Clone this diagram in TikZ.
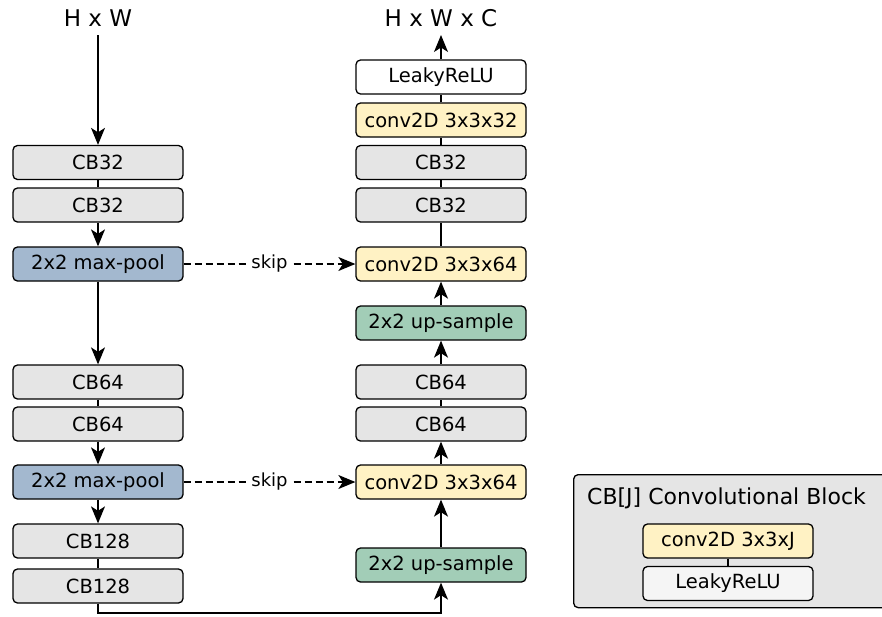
\documentclass[tikz,border=0pt]{standalone}
\usepackage{fontspec}
\setmainfont{DejaVu Sans}
\usetikzlibrary{arrows.meta}
\definecolor{cbgray}{HTML}{E5E5E5}
\definecolor{poolblue}{HTML}{A3B8CF}
\definecolor{convyel}{HTML}{FFF2C4}
\definecolor{upgreen}{HTML}{A2CDB7}
\definecolor{lightg}{HTML}{F5F5F5}
\tikzset{
  blk/.style={draw, line width=1.3pt, rounded corners=4.5pt, minimum width=170pt, minimum height=34pt, inner sep=0pt, font=\fontsize{19.5}{22}\selectfont, text=black},
  cb/.style={blk, fill=cbgray},
  pool/.style={blk, fill=poolblue},
  conv/.style={blk, fill=convyel},
  up/.style={blk, fill=upgreen},
  relu/.style={blk, fill=white},
  ttl/.style={font=\fontsize{23}{26}\selectfont, inner sep=0pt},
  legttl/.style={font=\fontsize{22}{25}\selectfont, inner sep=0pt},
  conn/.style={line width=1.3pt},
  arr/.style={conn, -{Stealth[length=17pt,width=14pt,inset=4.5pt]}},
  skipline/.style={arr, dashed, dash pattern=on 7pt off 4pt},
  skiplab/.style={fill=white, inner sep=2pt, font=\fontsize{18}{20}\selectfont},
}
\begin{document}
\begin{tikzpicture}[x=1pt,y=-1pt]
\useasboundingbox (0,0) rectangle (882,616);
% left column
\node[ttl] (in) at (98,18) {H x W};
\node[cb] (l1) at (98,162.5) {CB32};
\node[cb] (l2) at (98,205) {CB32};
\node[pool] (p1) at (98,264) {2x2 max-pool};
\node[cb] (l3) at (98,382) {CB64};
\node[cb] (l4) at (98,424) {CB64};
\node[pool] (p2) at (98,482) {2x2 max-pool};
\node[cb] (l5) at (98,541) {CB128};
\node[cb] (l6) at (98,586) {CB128};
% right column
\node[ttl] (out) at (441,18) {H x W x C};
\node[relu] (r0) at (441,77) {LeakyReLU};
\node[conv] (r1) at (441,120) {conv2D 3x3x32};
\node[cb] (r2) at (441,162.5) {CB32};
\node[cb] (r3) at (441,205) {CB32};
\node[conv] (c1) at (441,264) {conv2D 3x3x64};
\node[up] (u1) at (441,323) {2x2 up-sample};
\node[cb] (r4) at (441,382) {CB64};
\node[cb] (r5) at (441,424) {CB64};
\node[conv] (c2) at (441,482) {conv2D 3x3x64};
\node[up] (u2) at (441,565) {2x2 up-sample};
% legend
\node[draw, line width=1.3pt, fill=cbgray, rounded corners=4.5pt, minimum width=330pt, minimum height=133pt, anchor=north west, inner sep=0pt] (leg) at (573,474) {};
\node[legttl, anchor=west] (legt) at (587,498) {CB[J] Convolutional Block};
\node[conv] (lc) at (728,541) {conv2D 3x3xJ};
\node[blk, fill=lightg] (lr) at (728,583.5) {LeakyReLU};
\draw[conn] (lc) -- (lr);
% left connections
\draw[arr] (in.south |- 0,35) -- (l1.north);
\draw[conn] (l1) -- (l2);
\draw[arr] (l2) -- (p1);
\draw[arr] (p1) -- (l3);
\draw[conn] (l3) -- (l4);
\draw[arr] (l4) -- (p2);
\draw[arr] (p2) -- (l5);
\draw[conn] (l5) -- (l6);
% right connections
\draw[arr] (r0.north) -- (out.south |- 0,35);
\draw[conn] (r1) -- (r0);
\draw[conn] (r2) -- (r1);
\draw[conn] (r3) -- (r2);
\draw[conn] (c1) -- (r3);
\draw[arr] (u1) -- (c1);
\draw[arr] (r4) -- (u1);
\draw[conn] (r5) -- (r4);
\draw[arr] (c2) -- (r5);
\draw[arr] (u2) -- (c2);
\coordinate (b1) at (98,613);
\coordinate (b2) at (441,613);
\draw[arr] (l6.south) -- (b1) -- (b2) -- (u2.south);
% skips
\draw[skipline] (p1.east) -- node[skiplab] {skip} (c1.west);
\draw[skipline] (p2.east) -- node[skiplab] {skip} (c2.west);
\end{tikzpicture}
\end{document}
